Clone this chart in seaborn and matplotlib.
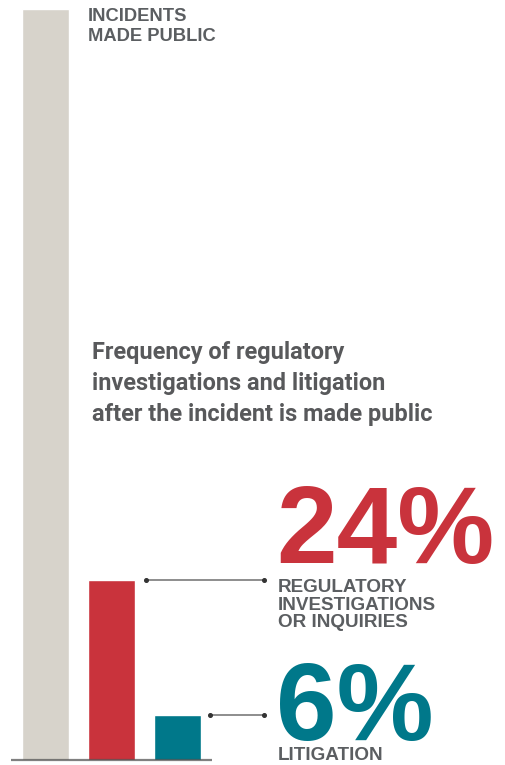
import matplotlib
matplotlib.use("Agg")
import matplotlib.pyplot as plt
import seaborn as sns
import pandas as pd
from matplotlib import font_manager

# ---- data ----
categories = ["Incidents made public", "Regulatory investigations or inquiries", "Litigation"]
values = [100, 24, 6]
bar_colors = ["#d7d3cb", "#c9333c", "#00788a"]
top_label = ["INCIDENTS", "MADE PUBLIC"]
title_lines = ["Frequency of regulatory", "investigations and litigation",
               "after the incident is made public"]
pct_labels = ["24%", "6%"]
desc_labels = [["REGULATORY", "INVESTIGATIONS", "OR INQUIRIES"], ["LITIGATION"]]

sns.set_theme(style="white")
names = {f.name for f in font_manager.fontManager.ttflist}
narrow = "Liberation Sans Narrow" if "Liberation Sans Narrow" in names else "Roboto"
plt.rcParams["font.family"] = ["Liberation Sans", "DejaVu Sans"]

W, H = 505, 765
fig = plt.figure(figsize=(W / 100, H / 100), dpi=100)
ax = fig.add_axes([0, 0, 1, 1])

df = pd.DataFrame({"cat": categories, "val": values})
sns.barplot(data=df, x="cat", y="val", hue="cat", palette=bar_colors,
            width=0.712, legend=False, ax=ax, saturation=1)

# pixel mapping: bar centers at 45.5 + 66*i px; baseline 760 px from top; 100% = 751 px
ux, uy = 66.0, 7.51
ax.set_xlim(-45.5 / ux, (W - 45.5) / ux)
ax.set_ylim(-5 / uy, (H - 5) / uy)
ax.axis("off")

def px(x):
    return (x - 45.5) / ux

def py(y):
    return (760 - y) / uy

# baseline
ax.plot([px(11), px(212)], [0, 0], color="#4a4a4a", alpha=0.7, lw=1.6,
        solid_capstyle="butt", zorder=5)

# connectors
for i, v in zip([1, 2], values[1:]):
    x0 = i + 0.356 + (0.167 if i == 1 else 0.136)
    ax.plot([x0, px(264)], [v, v], color="#7a7a7a", lw=1.2, zorder=4)
    ax.plot([x0, px(264)], [v, v], ls="none", marker="o", ms=2.6,
            color="#333333", zorder=6)

gray = "#5b5e61"
# top label
for t, yb in zip(top_label, [21, 41]):
    ax.text(px(88), py(yb), t, fontsize=13.2, fontweight="bold", color=gray,
            va="baseline", ha="left")

# title
title_texts = []
for t, yb in zip(title_lines, [359, 390, 420.5]):
    title_texts.append(ax.text(px(92), py(yb), t, fontsize=20, fontweight="bold",
                               color="#58595b", family=[narrow, "DejaVu Sans"],
                               va="baseline", ha="left"))
fig.canvas.draw()
r = fig.canvas.get_renderer()
wmax = max(tt.get_window_extent(r).width for tt in title_texts)
scale = 340.0 / wmax
for tt in title_texts:
    tt.set_fontsize(20 * scale)

# big percentages
ax.text(px(276), py(563), pct_labels[0], fontsize=78.5, fontweight="bold",
        color=bar_colors[1], va="baseline", ha="left")
ax.text(px(276), py(740), pct_labels[1], fontsize=78.5, fontweight="bold",
        color=bar_colors[2], va="baseline", ha="left")

# descriptions
for t, yb in zip(desc_labels[0], [592, 609.5, 627]):
    ax.text(px(278), py(yb), t, fontsize=13.6, fontweight="bold", color=gray,
            va="baseline", ha="left")
ax.text(px(278), py(760.5), desc_labels[1][0], fontsize=13.6, fontweight="bold",
        color=gray, va="baseline", ha="left")

fig.savefig("out.png", dpi=100)
